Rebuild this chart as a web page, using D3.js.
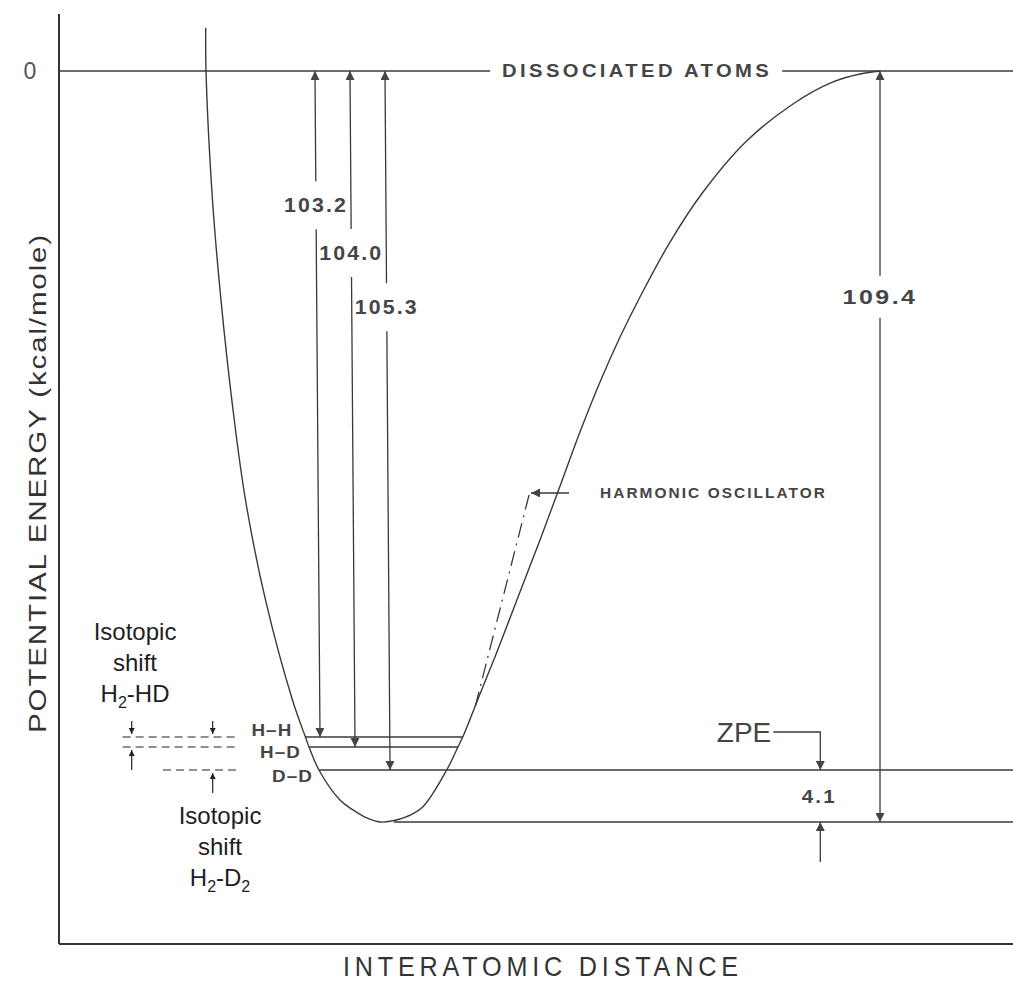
<!DOCTYPE html>
<html>
<head>
<meta charset="utf-8">
<script src="https://cdn.jsdelivr.net/npm/d3@7"></script>
<style>
  body { margin: 0; background: #fff; }
  svg { display: block; font-family: "Liberation Sans", Arial, Helvetica, sans-serif; }
</style>
</head>
<body>
<div id="chart"></div>
<script>
const width = 1013;
const height = 989;

// potential energy curve: [distance (arb. units), energy (kcal/mole)]
const curvePoints = [
  [1.538, 6.66], [1.541, 0], [1.609, -20.0], [1.698, -35.5], [1.824, -52.5],
  [1.955, -66.5], [2.165, -82.0], [2.448, -97.5], [2.583, -103.2], [2.621, -104.0],
  [2.725, -105.3], [2.945, -107.67], [3.082, -108.45], [3.225, -109.08], [3.365, -109.4],
  [3.501, -109.3], [3.645, -108.98], [3.815, -108.19], [4.064, -105.3], [4.182, -104.0],
  [4.232, -103.2], [4.413, -96.54], [4.623, -88.79], [4.832, -80.73], [5.042, -72.67],
  [5.252, -64.31], [5.461, -55.94], [5.671, -48.19], [5.881, -41.22], [6.090, -35.02],
  [6.405, -26.50], [6.751, -18.75], [7.208, -10.85], [7.694, -5.11], [8.113, -1.70],
  [8.396, -0.46], [8.606, 0]
];

// zero point levels
const levelNames = ["H\u2013H", "H\u2013D", "D\u2013D"];
const levelEnergies = [-103.2, -104.0, -105.3];
const levelStart = [2.583, 2.621, 2.725];
const levelEnd = [4.232, 4.182, 10];

// dissociation energy arrows (top r, bottom r, label energy)
const arrowTopR = [2.683, 3.050, 3.417];
const arrowBottomR = [2.736, 3.103, 3.470];
const arrowLabelE = [-20.8, -28.2, -36.6];

const wellBottom = -109.4;
const wellR = 3.365;
const depthArrowR = 8.606;
const depthLabelE = -35.0;
const zpeR = 7.98;

// harmonic oscillator (dash-dot) segment
const harmonicPoints = [[4.927, -65.7], [4.361, -98.6]];

// energy axis is broken: bottom of the well is stretched
const energyDomain = [-119, -109.4, -105.3, -104.0, -103.2, 0, 8.8];
const energyRange = [944, 822, 770, 747, 737, 71, 14];

const x = d3.scaleLinear().domain([0, 10]).range([59, 1013]);
const y = d3.scaleLinear().domain(energyDomain).range(energyRange);

const ink = "#3a3a3a";
const labelInk = "#454545";

const svg = d3.select("#chart")
  .append("svg")
  .attr("width", width)
  .attr("height", height);

const defs = svg.append("defs");
defs.append("marker")
  .attr("id", "head")
  .attr("viewBox", "0 0 10 10")
  .attr("refX", 10).attr("refY", 5)
  .attr("markerWidth", 10).attr("markerHeight", 9)
  .attr("markerUnits", "userSpaceOnUse")
  .attr("orient", "auto")
  .append("path")
  .attr("d", "M0,0L10,5L0,10Z")
  .attr("fill", "#444");
defs.append("marker")
  .attr("id", "small")
  .attr("viewBox", "0 0 10 10")
  .attr("refX", 10).attr("refY", 5)
  .attr("markerWidth", 7).attr("markerHeight", 6)
  .attr("markerUnits", "userSpaceOnUse")
  .attr("orient", "auto")
  .append("path")
  .attr("d", "M0,0L10,5L0,10Z")
  .attr("fill", "#222");

// wide, lightly spaced lettering like the scanned original
const wideLabel = (t, size, spacing, len) => t
  .attr("font-size", size).attr("font-weight", "bold").attr("fill", labelInk)
  .attr("letter-spacing", spacing)
  .attr("textLength", len).attr("lengthAdjust", "spacingAndGlyphs");

// axes frame
svg.append("line")
  .attr("x1", x(0)).attr("x2", x(0))
  .attr("y1", y(8.8)).attr("y2", y(-119))
  .attr("stroke", "#333").attr("stroke-width", 2);
svg.append("line")
  .attr("x1", x(0)).attr("x2", x(10))
  .attr("y1", y(-119)).attr("y2", y(-119))
  .attr("stroke", "#333").attr("stroke-width", 2.2);

const thin = g => g.attr("stroke", ink).attr("stroke-width", 1.3).attr("fill", "none");

// zero line with the label in a gap
const dissR = 6.06;
svg.append("text")
  .attr("x", x(dissR)).attr("y", y(0)).attr("dy", "0.36em")
  .attr("text-anchor", "middle")
  .call(wideLabel, 18, 3, 270)
  .text("DISSOCIATED ATOMS");
svg.append("line").call(thin)
  .attr("x1", x(0)).attr("x2", x(dissR) - 147)
  .attr("y1", y(0)).attr("y2", y(0));
svg.append("line").call(thin)
  .attr("x1", x(dissR) + 145).attr("x2", x(10))
  .attr("y1", y(0)).attr("y2", y(0));

svg.append("text")
  .attr("x", 30).attr("y", y(0)).attr("dy", "0.36em")
  .attr("text-anchor", "middle")
  .attr("font-size", 23).attr("fill", "#555")
  .text("0");

// potential curve
svg.append("path").call(thin)
  .attr("stroke-width", 1.4)
  .attr("d", d3.line()
    .x(d => x(d[0]))
    .y(d => y(d[1]))
    .curve(d3.curveCatmullRom.alpha(0.5))(curvePoints));

// zero point levels
levelEnergies.forEach((e, i) => {
  svg.append("line").call(thin)
    .attr("x1", x(levelStart[i])).attr("x2", x(levelEnd[i]))
    .attr("y1", y(e)).attr("y2", y(e));
});
const levelLabelDx = [-13, -8, -6];
const levelLabelDy = [-7, 5, 6];
levelNames.forEach((n, i) => {
  svg.append("text")
    .attr("x", x(levelStart[i]) + levelLabelDx[i])
    .attr("y", y(levelEnergies[i]) + levelLabelDy[i])
    .attr("dy", "0.36em")
    .attr("text-anchor", "end")
    .call(wideLabel, 17, 1, 41)
    .text(n);
});

// bottom of well line
svg.append("line").call(thin)
  .attr("x1", x(wellR) + 14).attr("x2", x(10))
  .attr("y1", y(wellBottom)).attr("y2", y(wellBottom));

// vertical arrow split around its label
function splitArrow(xTop, xBot, yTop, yBot, labelY, gap, label, len) {
  const xAt = yy => xTop + (xBot - xTop) * (yy - yTop) / (yBot - yTop);
  const ya = labelY - gap, yb = labelY + gap;
  svg.append("line").call(thin)
    .attr("x1", xAt(ya)).attr("y1", ya)
    .attr("x2", xTop).attr("y2", yTop)
    .attr("marker-end", "url(#head)");
  svg.append("line").call(thin)
    .attr("x1", xAt(yb)).attr("y1", yb)
    .attr("x2", xBot).attr("y2", yBot)
    .attr("marker-end", "url(#head)");
  svg.append("text")
    .attr("x", xAt(labelY)).attr("y", labelY).attr("dy", "0.36em")
    .attr("text-anchor", "middle")
    .call(wideLabel, 20, 2, len)
    .text(label);
}

levelEnergies.forEach((e, i) => {
  splitArrow(x(arrowTopR[i]), x(arrowBottomR[i]), y(0), y(e),
    y(arrowLabelE[i]), 24, (-e).toFixed(1), 64);
});
splitArrow(x(depthArrowR), x(depthArrowR), y(0), y(wellBottom),
  y(depthLabelE), 21, (-wellBottom).toFixed(1), 75);

// ZPE annotation
const ddE = levelEnergies[2];
svg.append("text")
  .attr("x", x(zpeR) - 49).attr("y", y(ddE) - 38).attr("dy", "0.36em")
  .attr("text-anchor", "end")
  .attr("font-size", 28).attr("fill", "#444")
  .text("ZPE");
svg.append("path").call(thin)
  .attr("d", `M${x(zpeR) - 47},${y(ddE) - 38}H${x(zpeR)}V${y(ddE)}`)
  .attr("marker-end", "url(#head)");
svg.append("text")
  .attr("x", x(zpeR) - 1).attr("y", (y(ddE) + y(wellBottom)) / 2).attr("dy", "0.36em")
  .attr("text-anchor", "middle")
  .call(wideLabel, 19, 2, 35)
  .text((ddE - wellBottom).toFixed(1));
svg.append("line").call(thin)
  .attr("x1", x(zpeR)).attr("x2", x(zpeR))
  .attr("y1", y(wellBottom) + 40).attr("y2", y(wellBottom))
  .attr("marker-end", "url(#head)");

// harmonic oscillator
svg.append("line").call(thin)
  .attr("stroke-dasharray", "15,6,2,6")
  .attr("x1", x(harmonicPoints[0][0])).attr("y1", y(harmonicPoints[0][1]))
  .attr("x2", x(harmonicPoints[1][0])).attr("y2", y(harmonicPoints[1][1]));
svg.append("line").call(thin)
  .attr("x1", x(harmonicPoints[0][0]) + 40).attr("y1", y(harmonicPoints[0][1]) - 2)
  .attr("x2", x(harmonicPoints[0][0]) + 2).attr("y2", y(harmonicPoints[0][1]) - 2)
  .attr("marker-end", "url(#head)");
svg.append("text")
  .attr("x", x(harmonicPoints[0][0]) + 71).attr("y", y(harmonicPoints[0][1]) - 2)
  .attr("dy", "0.36em")
  .call(wideLabel, 15, 2, 227)
  .text("HARMONIC OSCILLATOR");

// isotopic shift guide lines
const dashStartR = [0.667, 0.667, 1.09];
const dashEndR = 1.887;
levelEnergies.forEach((e, i) => {
  svg.append("line")
    .attr("stroke", "#222").attr("stroke-width", 1.1)
    .attr("stroke-dasharray", "8,5")
    .attr("x1", x(dashStartR[i])).attr("x2", x(dashEndR))
    .attr("y1", y(e)).attr("y2", y(e));
});
const tickR = [0.762, 1.611];
function smallArrow(r, from, to) {
  svg.append("line")
    .attr("stroke", "#222").attr("stroke-width", 1.2)
    .attr("x1", x(r)).attr("x2", x(r))
    .attr("y1", from).attr("y2", to)
    .attr("marker-end", "url(#small)");
}
smallArrow(tickR[0], y(levelEnergies[0]) - 16, y(levelEnergies[0]) - 3);
smallArrow(tickR[1], y(levelEnergies[0]) - 16, y(levelEnergies[0]) - 3);
smallArrow(tickR[0], y(levelEnergies[1]) + 23, y(levelEnergies[1]) + 3);
smallArrow(tickR[1], y(levelEnergies[2]) + 23, y(levelEnergies[2]) + 3);

function shiftNote(r, y0, sub) {
  const lines = ["Isotopic", "shift"];
  lines.forEach((t, i) => {
    svg.append("text")
      .attr("x", x(r)).attr("y", y0 + i * 31).attr("dy", "0.36em")
      .attr("text-anchor", "middle")
      .attr("font-size", 24).attr("fill", "#1e1e1e")
      .text(t);
  });
  const t = svg.append("text")
    .attr("x", x(r)).attr("y", y0 + 62).attr("dy", "0.36em")
    .attr("text-anchor", "middle")
    .attr("font-size", 24).attr("fill", "#1e1e1e");
  sub.forEach((s, i) => {
    const ts = t.append("tspan").text(s);
    if (i % 2 === 1) ts.attr("font-size", 16).attr("dy", 6);
    else if (i > 0) ts.attr("dy", -6);
  });
}
shiftNote(0.797, y(levelEnergies[0]) - 106, ["H", "2", "-HD"]);
shiftNote(1.688, y(levelEnergies[2]) + 45, ["H", "2", "-D", "2"]);

// axis titles
svg.append("text")
  .attr("transform", `translate(37,${(y(8.8) + y(-119)) / 2 + 4}) rotate(-90)`)
  .attr("dy", "0.36em")
  .attr("text-anchor", "middle")
  .attr("font-size", 24).attr("fill", "#333")
  .attr("letter-spacing", 1.5)
  .attr("textLength", 500).attr("lengthAdjust", "spacingAndGlyphs")
  .text("POTENTIAL ENERGY (kcal/mole)");

const xTitleScale = 0.9;
svg.append("text")
  .attr("transform", `translate(${(343 + 738) / 2},966) scale(${xTitleScale},1)`)
  .attr("dy", "0.36em")
  .attr("text-anchor", "middle")
  .attr("font-size", 28).attr("fill", "#333")
  .attr("textLength", 395 / xTitleScale).attr("lengthAdjust", "spacing")
  .text("INTERATOMIC DISTANCE");
</script>
</body>
</html>
